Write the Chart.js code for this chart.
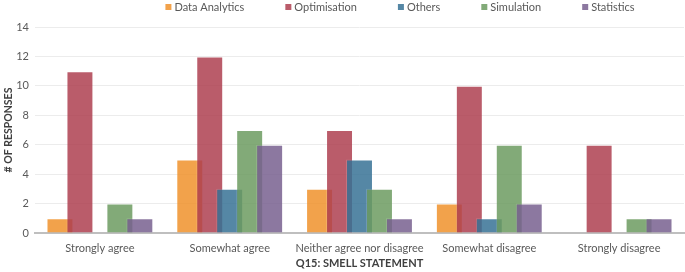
<!DOCTYPE html>
<html>
<head>
<meta charset="utf-8">
<script src="https://cdn.jsdelivr.net/npm/chart.js@4.4.1/dist/chart.umd.min.js"></script>
<style>
  html, body { margin: 0; padding: 0; background: #fff; }
  #wrap { width: 685px; height: 272px; }
</style>
</head>
<body>
<div id="wrap"><canvas id="chart"></canvas></div>
<script>
const categories = ['Strongly agree', 'Somewhat agree', 'Neither agree nor disagree', 'Somewhat disagree', 'Strongly disagree'];
const seriesNames = ['Data Analytics', 'Optimisation', 'Others', 'Simulation', 'Statistics'];
const dataAnalytics = [1, 5, 3, 2, 0];
const optimisation = [11, 12, 7, 10, 6];
const others = [0, 3, 5, 1, 0];
const simulation = [2, 7, 3, 6, 1];
const statistics = [1, 6, 1, 2, 1];
const yMax = 14;
const yStep = 2;

const colors = [
    'rgba(240, 146, 44, 0.85)',
    'rgba(174, 63, 80, 0.85)',
    'rgba(55, 114, 149, 0.85)',
    'rgba(108, 155, 96, 0.85)',
    'rgba(120, 96, 143, 0.85)'
];
const FONT = 'Lato';

// excel draws later series on top of earlier ones, chart.js does the opposite
const drawOrder = {
    id: 'drawOrder',
    beforeDatasetsDraw(chart) {
        chart.getSortedVisibleDatasetMetas().forEach(meta => meta.controller.draw());
        return false;
    }
};

// legend sits off-centre in the original, so draw it by hand
const topLegend = {
    id: 'topLegend',
    afterDraw(chart) {
        const ctx = chart.ctx;
        const items = chart.data.datasets;
        ctx.save();
        ctx.font = `11px ${FONT}`;
        ctx.textBaseline = 'middle';
        const widths = items.map(d => ctx.measureText(d.label).width);
        const gap = 41;
        const total = widths.reduce((a, b) => a + b, 0) + items.length * 9 + (items.length - 1) * gap;
        let x = 400 - total / 2;
        items.forEach((d, i) => {
            ctx.fillStyle = d.backgroundColor;
            ctx.fillRect(x, 4, 6, 6);
            ctx.fillStyle = '#595959';
            ctx.fillText(d.label, x + 9, 7);
            x += 9 + widths[i] + gap;
        });
        ctx.restore();
    }
};

const seriesData = [dataAnalytics, optimisation, others, simulation, statistics];

new Chart(document.getElementById('chart'), {
    type: 'bar',
    data: {
        labels: categories,
        datasets: seriesNames.map((name, i) => ({
            label: name,
            data: seriesData[i],
            backgroundColor: colors[i],
            borderColor: 'rgba(255, 255, 255, 0.15)',
            borderWidth: 1
        }))
    },
    options: {
        responsive: true,
        maintainAspectRatio: false,
        animation: false,
        layout: { padding: { top: 27, right: 1, left: 0, bottom: 0 } },
        datasets: {
            bar: { categoryPercentage: 100 / 130, barPercentage: 1.35 }
        },
        plugins: {
            legend: { display: false },
            tooltip: { enabled: false }
        },
        scales: {
            x: {
                grid: { display: false, drawTicks: false },
                border: { color: '#bfbfbf', width: 2 },
                ticks: {
                    color: '#595959',
                    font: { family: FONT, size: 11 },
                    padding: 9,
                    maxRotation: 0,
                    autoSkip: false
                },
                title: {
                    display: true,
                    text: 'Q15: SMELL STATEMENT',
                    color: '#404040',
                    font: { family: FONT, size: 11, weight: 'bold' },
                    padding: { top: 0, bottom: 2 }
                },
                afterFit(scale) { scale.height = 39; }
            },
            y: {
                min: 0,
                max: yMax,
                ticks: {
                    stepSize: yStep,
                    color: '#595959',
                    font: { family: FONT, size: 11 },
                    padding: 6
                },
                grid: { color: '#ececec', drawTicks: false },
                border: { display: false },
                title: {
                    display: true,
                    text: '# OF RESPONSES',
                    color: '#404040',
                    font: { family: FONT, size: 10.5, weight: 'bold' },
                    padding: { top: 2, bottom: 0 }
                },
                afterFit(scale) { scale.width = 35; }
            }
        }
    },
    plugins: [drawOrder, topLegend]
});
</script>
</body>
</html>
